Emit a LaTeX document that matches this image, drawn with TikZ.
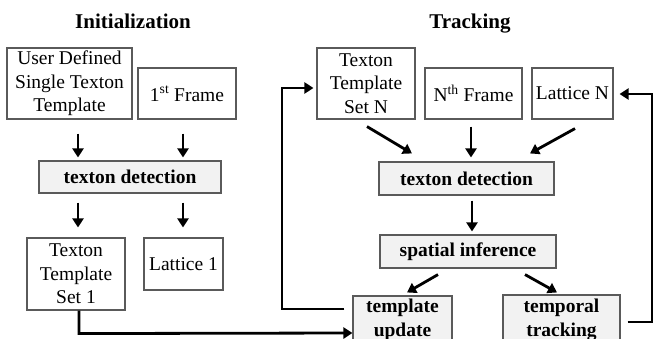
\documentclass[tikz,border=0pt]{standalone}
\usepackage{fontspec}
\setmainfont{Liberation Serif}
\usetikzlibrary{arrows.meta,calc}
\definecolor{boxline}{HTML}{5A5A5A}
\definecolor{procfill}{HTML}{F2F2F2}
\tikzset{
  databox/.style={draw=boxline, line width=1.1pt, fill=white, inner sep=0pt,
    align=center, font=\fontsize{19.5}{23.5}\selectfont},
  procbox/.style={databox, fill=procfill, font=\fontsize{19.5}{23.5}\selectfont\bfseries},
  heading/.style={anchor=base, font=\fontsize{21}{25}\selectfont\bfseries},
  arr/.style={line width=2.8pt, -{Triangle[width=11pt,length=9pt]}},
}
\begin{document}
\begin{tikzpicture}[x=1pt,y=-1pt]
\useasboundingbox (0,0) rectangle (655,339);
\clip (0,0) rectangle (655,339);
\fill[white] (0,0) rectangle (655,339);

% headings
\node[heading] (hinit) at (133,29) {Initialization};
\node[heading] (htrack) at (470,29) {Tracking};

% initialization column
\node[databox, minimum width=125pt, minimum height=71pt] (ud) at (69.5,83.5) {User Defined\\Single Texton\\Template};
\node[databox, minimum width=98pt, minimum height=51pt] (f1) at (187,93.5) {1\textsuperscript{st} Frame};
\node[procbox, minimum width=182pt, minimum height=32pt] (td1) at (130,177) {texton detection};
\node[databox, minimum width=98pt, minimum height=72pt] (ts1) at (76,274) {Texton\\Template\\Set 1};
\node[databox, minimum width=79pt, minimum height=52pt] (l1) at (183.5,264) {Lattice 1};

% tracking column
\node[databox, minimum width=98pt, minimum height=71pt] (tsN) at (366,83.5) {Texton\\Template\\Set N};
\node[databox, minimum width=97pt, minimum height=51pt] (fN) at (473.5,93.5) {N\textsuperscript{th} Frame};
\node[databox, minimum width=81pt, minimum height=51pt] (lN) at (572.5,93.5) {Lattice N};
\node[procbox, minimum width=175pt, minimum height=33pt] (tdN) at (466.5,178.5) {texton detection};
\node[procbox, minimum width=176pt, minimum height=33pt] (si) at (468,251.5) {spatial inference};
\node[procbox, minimum width=99pt, minimum height=48pt] (tu) at (402.5,320) {template\\update};
\node[procbox, minimum width=117pt, minimum height=50pt] (tt) at (561.5,320) {temporal\\tracking};

% initialization arrows (offsets in picture units, y pointing down)
\draw[arr] ($(ud.south)+(8.5,14)$) -- ($(ud.south |- td1.north)+(8.5,-3)$);
\draw[arr] ($(f1.south)+(-4,14)$) -- ($(f1.south |- td1.north)+(-4,-3)$);
\draw[arr] ($(td1.south -| ts1.north)+(2,9)$) -- ($(ts1.north)+(2,-10)$);
\draw[arr] ($(td1.south -| l1.north)+(-0.5,9)$) -- ($(l1.north)+(-0.5,-10)$);

% tracking arrows into texton detection
\draw[arr] ($(tsN.south)+(1,7)$) -- ($(tdN.north)+(-54.5,-8)$);
\draw[arr] ($(fN.south)+(-2.5,7)$) -- ($(tdN.north)+(4.5,-4)$);
\draw[arr] ($(lN.south)+(2.5,9)$) -- ($(tdN.north)+(63.5,-8)$);

% detection -> inference -> update / tracking
\draw[arr] ($(tdN.south)+(5.5,5)$) -- ($(si.north)+(4,-3)$);
\draw[arr] ($(si.south)+(-30,6)$) -- ($(tu.north)+(4.5,-3)$);
\draw[arr] ($(si.south)+(57,6)$) -- ($(tt.north)+(-4.5,-2)$);

% template set 1 feeds the template update
\draw[arr] ($(ts1.south)+(3,0)$) -- ++(0,23) -- ($(tu.west)+(0,13)$);

% template update loops back to template set N
\coordinate (upL) at (282,309);
\draw[arr] ($(tu.west)+(-8,-11)$) -- (upL) -- (282,88) -- ($(tsN.west |- 0,88)+(-3,0)$);

% temporal tracking loops back to lattice N
\coordinate (ttR) at (652,322);
\draw[arr] ($(tt.east)+(7,2)$) -- (ttR) -- (652,94) -- ($(lN.east |- 0,94)+(6,0)$);
\end{tikzpicture}
\end{document}
